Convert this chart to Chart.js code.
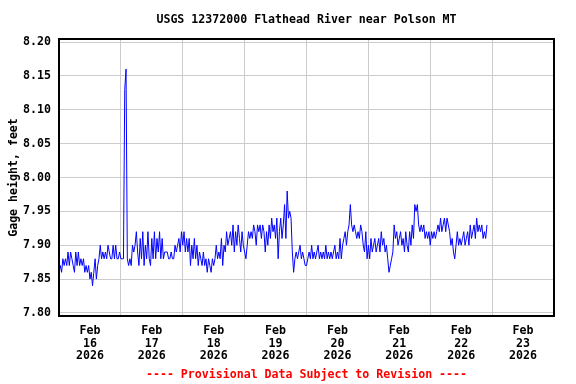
<html lang="en">
    <head>
        <meta charset="UTF-8">
        <title>USGS 12372000 Flathead River near Polson MT</title>
        <script src="https://cdn.jsdelivr.net/npm/chart.js"></script>
        <style>
            body {
                margin: 0;
                padding: 0;
                background-color: #ffffff;
            }

            .chart-box {
                position: relative;
                width: 576px;
                height: 384px;
            }
        </style>
    </head>

    <body>
        <div class="chart-box">
            <canvas id="gageChart"></canvas>
        </div>

        <script>
            // Gage height, feet - one reading every 30 minutes, one array per day
            const feb16 = [
                7.86, 7.87, 7.86, 7.88, 7.87, 7.88, 7.87, 7.89, 7.87, 7.89, 7.88, 7.87,
                7.86, 7.89, 7.87, 7.89, 7.87, 7.88, 7.87, 7.88, 7.86, 7.87, 7.86, 7.87,
                7.85, 7.86, 7.84, 7.86, 7.88, 7.85, 7.87, 7.88, 7.90, 7.88, 7.89, 7.88,
                7.89, 7.88, 7.90, 7.89, 7.88, 7.88, 7.90, 7.88, 7.90, 7.88, 7.88, 7.89
            ];
            const feb17 = [
                7.88, 7.88, 7.88, 8.13, 8.16, 7.88, 7.87, 7.88, 7.87, 7.90, 7.89, 7.90,
                7.92, 7.89, 7.87, 7.91, 7.88, 7.92, 7.87, 7.90, 7.88, 7.92, 7.88, 7.87,
                7.91, 7.88, 7.92, 7.88, 7.91, 7.89, 7.92, 7.88, 7.91, 7.88, 7.89, 7.89,
                7.89, 7.88, 7.88, 7.89, 7.88, 7.88, 7.90, 7.89, 7.90, 7.91, 7.89, 7.92
            ];
            const feb18 = [
                7.90, 7.92, 7.89, 7.91, 7.89, 7.91, 7.87, 7.90, 7.88, 7.91, 7.88, 7.90,
                7.87, 7.89, 7.88, 7.87, 7.89, 7.87, 7.88, 7.86, 7.88, 7.87, 7.86, 7.88,
                7.87, 7.88, 7.90, 7.88, 7.89, 7.88, 7.91, 7.87, 7.90, 7.89, 7.92, 7.90,
                7.91, 7.92, 7.90, 7.93, 7.89, 7.92, 7.90, 7.93, 7.91, 7.89, 7.92, 7.90
            ];
            const feb19 = [
                7.89, 7.88, 7.90, 7.92, 7.91, 7.92, 7.91, 7.93, 7.92, 7.90, 7.93, 7.92,
                7.93, 7.91, 7.93, 7.92, 7.89, 7.92, 7.90, 7.93, 7.91, 7.94, 7.92, 7.93,
                7.91, 7.94, 7.88, 7.92, 7.94, 7.91, 7.93, 7.96, 7.91, 7.98, 7.94, 7.95,
                7.94, 7.89, 7.86, 7.88, 7.89, 7.88, 7.89, 7.90, 7.88, 7.89, 7.88, 7.87
            ];
            const feb20 = [
                7.87, 7.88, 7.89, 7.88, 7.90, 7.88, 7.89, 7.88, 7.89, 7.90, 7.88, 7.89,
                7.88, 7.89, 7.88, 7.90, 7.88, 7.89, 7.88, 7.89, 7.88, 7.89, 7.90, 7.88,
                7.89, 7.88, 7.91, 7.88, 7.90, 7.91, 7.92, 7.90, 7.92, 7.93, 7.96, 7.93,
                7.92, 7.93, 7.92, 7.91, 7.92, 7.91, 7.93, 7.92, 7.90, 7.89, 7.92, 7.88
            ];
            const feb21 = [
                7.90, 7.88, 7.91, 7.89, 7.90, 7.91, 7.89, 7.90, 7.91, 7.89, 7.92, 7.90,
                7.91, 7.89, 7.90, 7.88, 7.86, 7.87, 7.88, 7.89, 7.93, 7.91, 7.92, 7.90,
                7.91, 7.92, 7.90, 7.91, 7.89, 7.92, 7.90, 7.89, 7.92, 7.90, 7.93, 7.91,
                7.96, 7.95, 7.96, 7.93, 7.92, 7.93, 7.92, 7.93, 7.91, 7.92, 7.91, 7.92
            ];
            const feb22 = [
                7.90, 7.92, 7.91, 7.92, 7.91, 7.92, 7.93, 7.92, 7.94, 7.92, 7.93, 7.94,
                7.92, 7.94, 7.93, 7.92, 7.90, 7.91, 7.89, 7.88, 7.90, 7.92, 7.90, 7.91,
                7.90, 7.91, 7.92, 7.90, 7.91, 7.92, 7.90, 7.93, 7.91, 7.92, 7.93, 7.91,
                7.94, 7.92, 7.93, 7.92, 7.93, 7.91, 7.92, 7.91, 7.93
            ];

            const days = [feb16, feb17, feb18, feb19, feb20, feb21, feb22];
            const dayLabels = ['16', '17', '18', '19', '20', '21', '22', '23'];
            const yTicks = [7.80, 7.85, 7.90, 7.95, 8.00, 8.05, 8.10, 8.15, 8.20];
            const titleText = 'USGS 12372000 Flathead River near Polson MT';
            const footerText = '---- Provisional Data Subject to Revision ----';

            // hours since Feb 16 00:00
            const points = [];
            days.forEach((vals, d) => {
                vals.forEach((v, i) => points.push({ x: d * 24 + i * 0.5, y: v }));
            });

            const mono = "'DejaVu Sans Mono', monospace";
            const fontSize = 11.6;

            // black frame round the plot area, title and footer centred on the plot
            const frame = {
                id: 'frame',
                afterDatasetsDraw(chart) {
                    const a = chart.chartArea;
                    const ctx = chart.ctx;
                    ctx.save();
                    ctx.strokeStyle = '#000000';
                    ctx.lineWidth = 2;
                    ctx.strokeRect(Math.round(a.left), Math.round(a.top),
                        Math.round(a.right - a.left), Math.round(a.bottom - a.top));
                    const cx = (a.left + a.right) / 2;
                    ctx.font = 'bold ' + fontSize + 'px ' + mono;
                    ctx.textAlign = 'center';
                    ctx.textBaseline = 'middle';
                    ctx.fillStyle = '#000000';
                    ctx.fillText(titleText, cx, 20);
                    ctx.fillStyle = '#ff0000';
                    ctx.fillText(footerText, cx, 375);
                    ctx.restore();
                }
            };

            new Chart(document.getElementById('gageChart'), {
                type: 'line',
                data: {
                    datasets: [{
                        data: points,
                        borderColor: '#0000ff',
                        borderWidth: 1,
                        pointRadius: 0,
                        tension: 0,
                        fill: false
                    }]
                },
                options: {
                    responsive: true,
                    maintainAspectRatio: false,
                    animation: false,
                    layout: { padding: { left: 0, right: 22, top: 39, bottom: 18 } },
                    scales: {
                        x: {
                            type: 'linear',
                            min: 0,
                            max: 192,
                            afterBuildTicks: s => { s.ticks = [24, 48, 72, 96, 120, 144, 168].map(v => ({ value: v })); },
                            grid: { color: '#cccccc', drawTicks: false },
                            border: { display: false },
                            ticks: { display: false },
                            afterFit: s => { s.height = 0; }
                        },
                        xDays: {
                            type: 'linear',
                            position: 'bottom',
                            min: 0,
                            max: 192,
                            afterBuildTicks: s => { s.ticks = dayLabels.map((d, i) => ({ value: 12 + i * 24 })); },
                            grid: { display: false, drawTicks: false },
                            border: { display: false },
                            ticks: {
                                autoSkip: false,
                                maxRotation: 0,
                                padding: 8,
                                color: '#000000',
                                font: { family: mono, size: fontSize, weight: 'bold', lineHeight: 1.12 },
                                callback: (v, i) => ['Feb', dayLabels[i], '2026']
                            },
                            afterFit: s => { s.height = 50; }
                        },
                        y: {
                            min: 7.7955,
                            max: 8.2045,
                            afterBuildTicks: s => { s.ticks = yTicks.map(v => ({ value: v })); },
                            grid: { color: '#cccccc', drawTicks: false },
                            border: { display: false },
                            ticks: {
                                padding: 8,
                                color: '#000000',
                                font: { family: mono, size: fontSize, weight: 'bold' },
                                callback: v => v.toFixed(2)
                            },
                            title: {
                                display: true,
                                text: 'Gage height, feet',
                                color: '#000000',
                                font: { family: mono, size: fontSize, weight: 'bold', lineHeight: 1 },
                                padding: { top: 8, bottom: 0 }
                            },
                            afterFit: s => { s.width = 59; }
                        }
                    },
                    plugins: {
                        legend: { display: false },
                        tooltip: { enabled: false }
                    }
                },
                plugins: [frame]
            });
        </script>
    </body>
</html>
